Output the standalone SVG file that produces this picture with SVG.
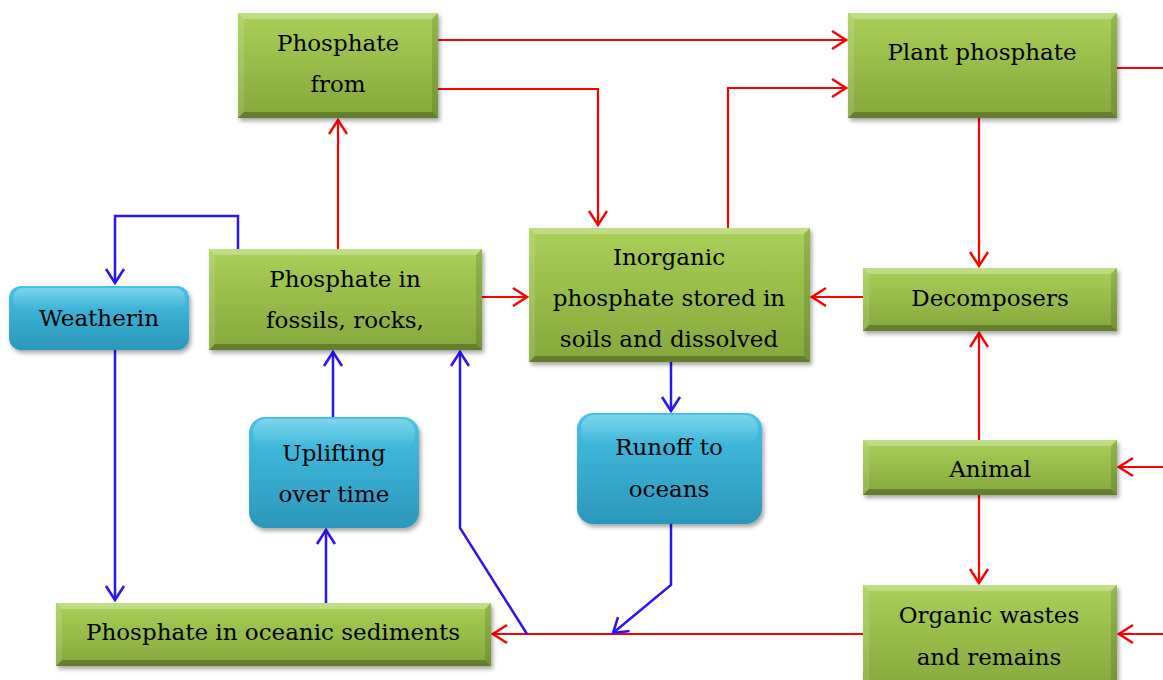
<svg xmlns="http://www.w3.org/2000/svg" width="1163" height="680" viewBox="0 0 1163 680">
<style>
  .g{fill:url(#gg);filter:url(#sh)}
  .c{fill:url(#cg);filter:url(#sh)}
  .hl{fill:#ffffff;fill-opacity:0.28}
  .lt{fill:#ffffff;fill-opacity:0.12}
  .dk{fill:#000000;fill-opacity:0.12}
  .dd{fill:#000000;fill-opacity:0.25}
  .ce{fill:url(#cgl)}
  text{font-family:"DejaVu Serif","Liberation Serif",serif;font-size:23px;fill:#000;text-anchor:middle}
  .r{stroke:#ff0000;stroke-width:2.2;fill:none}
  .b{stroke:#2a16f0;stroke-width:2.5;fill:none}
</style>
<defs>
  <linearGradient id="gg" x1="0" y1="0" x2="0" y2="1">
    <stop offset="0" stop-color="#a9d058"/>
    <stop offset="1" stop-color="#84a83b"/>
  </linearGradient>
  <linearGradient id="cg" x1="0" y1="0" x2="0" y2="1">
    <stop offset="0" stop-color="#45c2e5"/>
    <stop offset="1" stop-color="#2b97ba"/>
  </linearGradient>
  <linearGradient id="cgl" x1="0" y1="0" x2="0" y2="1">
    <stop offset="0" stop-color="#ffffff" stop-opacity="0.3"/>
    <stop offset="1" stop-color="#ffffff" stop-opacity="0"/>
  </linearGradient>
  <filter id="sh" x="-10%" y="-10%" width="130%" height="140%">
    <feDropShadow dx="2" dy="3" stdDeviation="2" flood-color="#000" flood-opacity="0.35"/>
  </filter>
  <marker id="ar" markerUnits="userSpaceOnUse" markerWidth="18" markerHeight="22" viewBox="0 0 18 22" refX="16" refY="11" orient="auto">
    <path d="M2,2 L16,11 L2,20" stroke="#ff0000" stroke-width="2.4" fill="none"/>
  </marker>
  <marker id="ab" markerUnits="userSpaceOnUse" markerWidth="18" markerHeight="22" viewBox="0 0 18 22" refX="16" refY="11" orient="auto">
    <path d="M2,2 L16,11 L2,20" stroke="#2a16f0" stroke-width="2.6" fill="none"/>
  </marker>
</defs>

<g id="connectors">
  <path class="r" d="M438,40 H846" marker-end="url(#ar)"/>
  <path class="r" d="M438,89 H598 V225" marker-end="url(#ar)"/>
  <path class="r" d="M728,228 V88 H846" marker-end="url(#ar)"/>
  <path class="r" d="M1117,68 H1163"/>
  <path class="r" d="M979,118 V266" marker-end="url(#ar)"/>
  <path class="r" d="M863,297 H812" marker-end="url(#ar)"/>
  <path class="r" d="M482,297 H527" marker-end="url(#ar)"/>
  <path class="r" d="M338,249 V120" marker-end="url(#ar)"/>
  <path class="r" d="M979,440 V333" marker-end="url(#ar)"/>
  <path class="r" d="M979,495 V583" marker-end="url(#ar)"/>
  <path class="r" d="M1163,467 H1119" marker-end="url(#ar)"/>
  <path class="r" d="M1163,634 H1119" marker-end="url(#ar)"/>
  <path class="r" d="M863,634 H493" marker-end="url(#ar)"/>
  <path class="b" d="M238,249 V216 H115 V283" marker-end="url(#ab)"/>
  <path class="b" d="M115,350 V600" marker-end="url(#ab)"/>
  <path class="b" d="M326,603 V530" marker-end="url(#ab)"/>
  <path class="b" d="M333,417 V352" marker-end="url(#ab)"/>
  <path class="b" d="M671,362 V411" marker-end="url(#ab)"/>
  <path class="b" d="M671,524 V585 L613,633" marker-end="url(#ab)"/>
  <path class="b" d="M527,634 L460,528 V352" marker-end="url(#ab)"/>
</g>

<g id="n1">
  <rect class="g" x="238" y="13" width="200" height="105"/>
  <polygon class="hl" points="238,13 438,13 432,19 244,19"/>
  <polygon class="lt" points="238,13 244,19 244,112 238,118"/>
  <polygon class="dk" points="438,13 438,118 432,112 432,19"/>
  <polygon class="dd" points="238,118 438,118 432,112 244,112"/>
  <text x="338" y="51">Phosphate</text>
  <text x="338" y="92">from</text>
</g>

<g id="n2">
  <rect class="g" x="848" y="13" width="269" height="105"/>
  <polygon class="hl" points="848,13 1117,13 1111,19 854,19"/>
  <polygon class="lt" points="848,13 854,19 854,112 848,118"/>
  <polygon class="dk" points="1117,13 1117,118 1111,112 1111,19"/>
  <polygon class="dd" points="848,118 1117,118 1111,112 854,112"/>
  <text x="982" y="60">Plant phosphate</text>
</g>

<g id="n3">
  <rect class="g" x="529" y="228" width="281" height="134"/>
  <polygon class="hl" points="529,228 810,228 804,234 535,234"/>
  <polygon class="lt" points="529,228 535,234 535,356 529,362"/>
  <polygon class="dk" points="810,228 810,362 804,356 804,234"/>
  <polygon class="dd" points="529,362 810,362 804,356 535,356"/>
  <text x="669" y="265">Inorganic</text>
  <text x="669" y="306">phosphate stored in</text>
  <text x="669" y="347">soils and dissolved</text>
</g>

<g id="n4">
  <rect class="g" x="863" y="268" width="254" height="63"/>
  <polygon class="hl" points="863,268 1117,268 1111,274 869,274"/>
  <polygon class="lt" points="863,268 869,274 869,325 863,331"/>
  <polygon class="dk" points="1117,268 1117,331 1111,325 1111,274"/>
  <polygon class="dd" points="863,331 1117,331 1111,325 869,325"/>
  <text x="990" y="306">Decomposers</text>
</g>

<g id="n5">
  <rect class="g" x="209" y="249" width="273" height="101"/>
  <polygon class="hl" points="209,249 482,249 476,255 215,255"/>
  <polygon class="lt" points="209,249 215,255 215,344 209,350"/>
  <polygon class="dk" points="482,249 482,350 476,344 476,255"/>
  <polygon class="dd" points="209,350 482,350 476,344 215,344"/>
  <text x="345" y="287">Phosphate in</text>
  <text x="345" y="328">fossils, rocks,</text>
</g>

<g id="n6">
  <rect class="c" x="9" y="286" width="180" height="64" rx="12"/>
  <rect class="ce" x="13" y="288" width="172" height="22" rx="10"/>
  <text x="99" y="326">Weatherin</text>
</g>

<g id="n7">
  <rect class="c" x="249" y="417" width="170" height="111" rx="16"/>
  <rect class="ce" x="253" y="419" width="162" height="30" rx="13"/>
  <text x="334" y="461">Uplifting</text>
  <text x="334" y="502">over time</text>
</g>

<g id="n8">
  <rect class="c" x="577" y="413" width="185" height="111" rx="16"/>
  <rect class="ce" x="581" y="415" width="177" height="30" rx="13"/>
  <text x="669" y="455">Runoff to</text>
  <text x="669" y="497">oceans</text>
</g>

<g id="n9">
  <rect class="g" x="863" y="440" width="254" height="55"/>
  <polygon class="hl" points="863,440 1117,440 1111,446 869,446"/>
  <polygon class="lt" points="863,440 869,446 869,489 863,495"/>
  <polygon class="dk" points="1117,440 1117,495 1111,489 1111,446"/>
  <polygon class="dd" points="863,495 1117,495 1111,489 869,489"/>
  <text x="990" y="477">Animal</text>
</g>

<g id="n10">
  <rect class="g" x="56" y="603" width="435" height="63"/>
  <polygon class="hl" points="56,603 491,603 485,609 62,609"/>
  <polygon class="lt" points="56,603 62,609 62,660 56,666"/>
  <polygon class="dk" points="491,603 491,666 485,660 485,609"/>
  <polygon class="dd" points="56,666 491,666 485,660 62,660"/>
  <text x="273" y="640">Phosphate in oceanic sediments</text>
</g>

<g id="n11">
  <rect class="g" x="863" y="585" width="254" height="105"/>
  <polygon class="hl" points="863,585 1117,585 1111,591 869,591"/>
  <polygon class="lt" points="863,585 869,591 869,690 863,690"/>
  <polygon class="dk" points="1117,585 1117,690 1111,690 1111,591"/>
  <text x="989" y="623">Organic wastes</text>
  <text x="989" y="665">and remains</text>
</g>
</svg>
